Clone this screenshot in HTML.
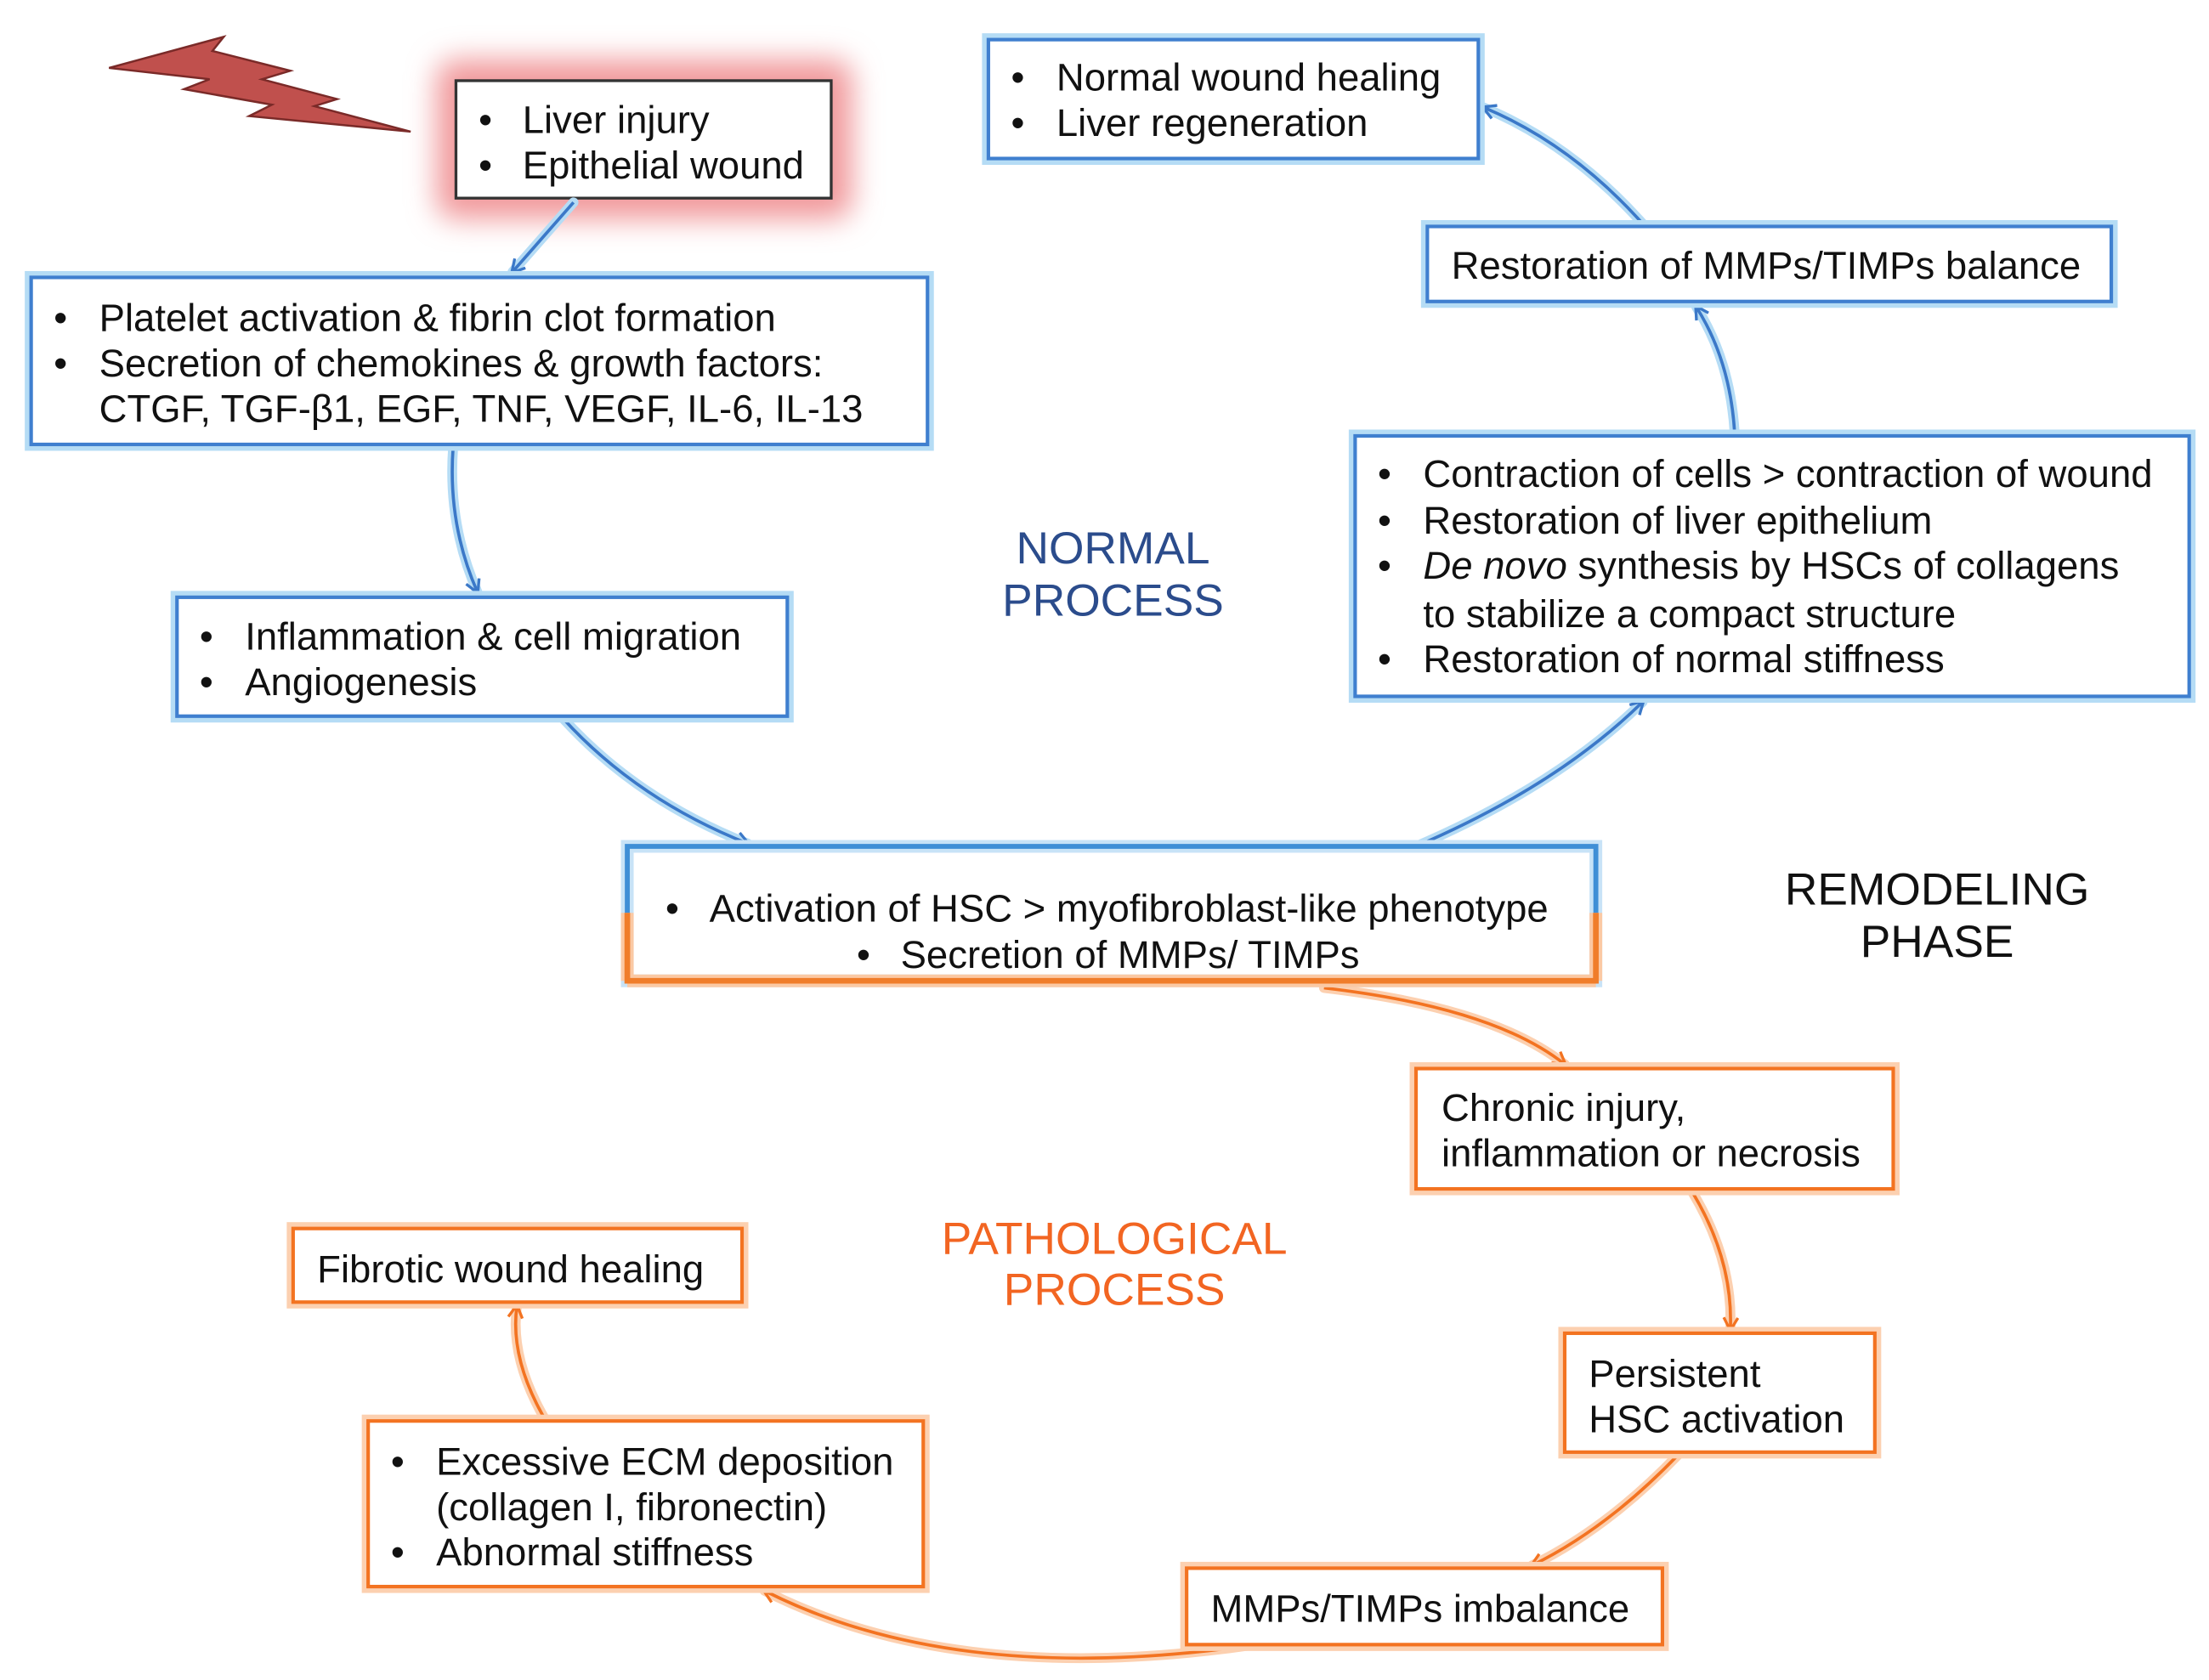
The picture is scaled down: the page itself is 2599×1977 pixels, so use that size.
<!DOCTYPE html>
<html><head><meta charset="utf-8"><style>
html,body{margin:0;padding:0;background:#fff;}
svg{display:block;}
text{font-family:"Liberation Sans",sans-serif;font-size:27.3px;fill:#111;}
</style></head><body>
<svg width="2599" height="1977" viewBox="0 0 1560 1187" preserveAspectRatio="none" xmlns="http://www.w3.org/2000/svg">
<defs>
<filter id="blur" x="-20%" y="-40%" width="140%" height="180%"><feGaussianBlur stdDeviation="10"/></filter>
<marker id="ab" markerWidth="12" markerHeight="12" refX="9" refY="6" orient="auto" markerUnits="userSpaceOnUse"><path d="M1,1 L10,6 L1,11" fill="none" stroke="#3b78c8" stroke-width="2"/></marker>
<marker id="ao" markerWidth="12" markerHeight="12" refX="9" refY="6" orient="auto" markerUnits="userSpaceOnUse"><path d="M1,1 L10,6 L1,11" fill="none" stroke="#f37321" stroke-width="2"/></marker>
</defs>

<polygon points="77,48 158,26 150,36 205,50 185,56 238,70 222,75 290,93 176,82 192,74 130,63 148,56" fill="#c0504d" stroke="#7a2a28" stroke-width="1.5"/>

<rect x="308" y="42" width="294" height="113" rx="14" fill="#f19a9c" filter="url(#blur)"/>
<rect x="322" y="57" width="265" height="83" fill="#fff" stroke="#333" stroke-width="2"/>
<text x="338" y="94">•</text><text x="369" y="94">Liver injury</text>
<text x="338" y="126">•</text><text x="369" y="126">Epithelial wound</text>

<g fill="none" stroke="#b5dcf5" stroke-width="7" stroke-linecap="round">
<path d="M405,143 L362,192"/>
<path d="M320,316 Q316,370 337,418"/>
<path d="M398,508 Q450,565 528,596"/>
<path d="M1000,598 Q1100,555 1160,496"/>
<path d="M1225,306 Q1222,255 1198,217"/>
<path d="M1160,158 Q1110,102 1048,76"/>
</g>
<g fill="none" stroke="#3b78c8" stroke-width="2.2">
<path d="M405,143 L362,192" marker-end="url(#ab)"/>
<path d="M320,316 Q316,370 337,418" marker-end="url(#ab)"/>
<path d="M398,508 Q450,565 528,596" marker-end="url(#ab)"/>
<path d="M1000,598 Q1100,555 1160,496" marker-end="url(#ab)"/>
<path d="M1225,306 Q1222,255 1198,217" marker-end="url(#ab)"/>
<path d="M1160,158 Q1110,102 1048,76" marker-end="url(#ab)"/>
</g>
<g fill="none" stroke="#fcd0b0" stroke-width="7" stroke-linecap="round">
<path d="M935,698 Q1055,712 1105,752"/>
<path d="M1195,842 Q1224,890 1222,939"/>
<path d="M1185,1028 Q1135,1080 1082,1106"/>
<path d="M900,1160 Q680,1195 540,1124"/>
<path d="M385,1003 Q360,960 365,923"/>
</g>
<g fill="none" stroke="#f37321" stroke-width="2.2">
<path d="M935,698 Q1055,712 1105,752" marker-end="url(#ao)"/>
<path d="M1195,842 Q1224,890 1222,939" marker-end="url(#ao)"/>
<path d="M1185,1028 Q1135,1080 1082,1106" marker-end="url(#ao)"/>
<path d="M900,1160 Q680,1195 540,1124" marker-end="url(#ao)"/>
<path d="M385,1003 Q360,960 365,923" marker-end="url(#ao)"/>
</g>

<g fill="#fff" stroke="#b5dcf5" stroke-width="9">
<rect x="22" y="196" width="633" height="118"/>
<rect x="125" y="422" width="431" height="84"/>
<rect x="698" y="28" width="346" height="84"/>
<rect x="1008" y="160" width="483" height="53"/>
<rect x="957" y="308" width="589" height="184"/>
</g>
<g fill="#fff" stroke="#3f7fcf" stroke-width="2.5">
<rect x="22" y="196" width="633" height="118"/>
<rect x="125" y="422" width="431" height="84"/>
<rect x="698" y="28" width="346" height="84"/>
<rect x="1008" y="160" width="483" height="53"/>
<rect x="957" y="308" width="589" height="184"/>
</g>

<rect x="443" y="598" width="684" height="95" fill="#fff" stroke="#c8e3f7" stroke-width="9"/>
<path d="M443,693 L1127,693 M443,645 L443,693 M1127,645 L1127,693" stroke="#fbc9a4" stroke-width="9" fill="none"/>
<path d="M443,645 L443,598 L1127,598 L1127,645" stroke="#3f8fd6" stroke-width="3.5" fill="none"/>
<path d="M443,645 L443,693 L1127,693 L1127,645" stroke="#f07d2a" stroke-width="4" fill="none"/>

<g fill="#fff" stroke="#fcd0b0" stroke-width="9">
<rect x="1000" y="755" width="337" height="85"/>
<rect x="207" y="868" width="317" height="52"/>
<rect x="1105" y="942" width="219" height="84"/>
<rect x="838" y="1108" width="336" height="54"/>
<rect x="260" y="1004" width="392" height="117"/>
</g>
<g fill="#fff" stroke="#f37321" stroke-width="2.5">
<rect x="1000" y="755" width="337" height="85"/>
<rect x="207" y="868" width="317" height="52"/>
<rect x="1105" y="942" width="219" height="84"/>
<rect x="838" y="1108" width="336" height="54"/>
<rect x="260" y="1004" width="392" height="117"/>
</g>

<text x="38" y="234">•</text><text x="70" y="234">Platelet activation &amp; fibrin clot formation</text>
<text x="38" y="266">•</text><text x="70" y="266">Secretion of chemokines &amp; growth factors:</text>
<text x="70" y="298">CTGF, TGF-β1, EGF, TNF, VEGF, IL-6, IL-13</text>

<text x="141" y="459">•</text><text x="173" y="459">Inflammation &amp; cell migration</text>
<text x="141" y="491">•</text><text x="173" y="491">Angiogenesis</text>

<text x="714" y="64">•</text><text x="746" y="64">Normal wound healing</text>
<text x="714" y="96">•</text><text x="746" y="96">Liver regeneration</text>

<text x="1025" y="197">Restoration of MMPs/TIMPs balance</text>

<text x="973" y="344">•</text><text x="1005" y="344">Contraction of cells &gt; contraction of wound</text>
<text x="973" y="377">•</text><text x="1005" y="377">Restoration of liver epithelium</text>
<text x="973" y="409">•</text><text x="1005" y="409"><tspan font-style="italic">De novo</tspan> synthesis by HSCs of collagens</text>
<text x="1005" y="443">to stabilize a compact structure</text>
<text x="973" y="475">•</text><text x="1005" y="475">Restoration of normal stiffness</text>

<text x="470" y="651">•</text><text x="501" y="651">Activation of HSC &gt; myofibroblast-like phenotype</text>
<text x="605" y="684">•</text><text x="636" y="684">Secretion of MMPs/ TIMPs</text>

<text x="1018" y="792">Chronic injury,</text>
<text x="1018" y="824">inflammation or necrosis</text>
<text x="224" y="906">Fibrotic wound healing</text>
<text x="1122" y="980">Persistent</text>
<text x="1122" y="1012">HSC activation</text>
<text x="855" y="1146">MMPs/TIMPs imbalance</text>
<text x="276" y="1042">•</text><text x="308" y="1042">Excessive ECM deposition</text>
<text x="308" y="1074">(collagen I, fibronectin)</text>
<text x="276" y="1106">•</text><text x="308" y="1106">Abnormal stiffness</text>

<g text-anchor="middle">
<text x="786" y="398" style="fill:#2b4c8c;font-size:32px">NORMAL</text>
<text x="786" y="435" style="fill:#2b4c8c;font-size:32px">PROCESS</text>
<text x="1368" y="639" style="fill:#111;font-size:32px">REMODELING</text>
<text x="1368" y="676" style="fill:#111;font-size:32px">PHASE</text>
<text x="787" y="886" style="fill:#f26522;font-size:32px">PATHOLOGICAL</text>
<text x="787" y="922" style="fill:#f26522;font-size:32px">PROCESS</text>
</g>
</svg>
</body></html>
